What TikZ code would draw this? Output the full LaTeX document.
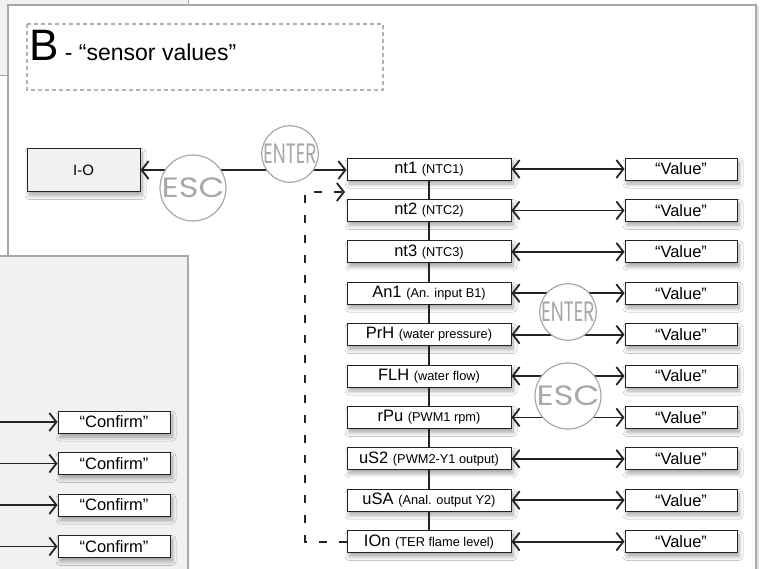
\documentclass[tikz,border=0pt]{standalone}
\usepackage{fontspec}
\setmainfont{Liberation Sans}
\newfontfamily\keyfont{Poppins}
\usetikzlibrary{arrows.meta,shadows.blur}

\definecolor{panelgray}{RGB}{240,241,243}
\definecolor{framegray}{RGB}{168,168,170}
\definecolor{keygray}{RGB}{168,168,168}
\definecolor{linedark}{RGB}{35,35,35}

\newcommand{\paren}[1]{{\fontsize{12.8}{14}\selectfont(#1)}}

\tikzset{
  softshadow/.style={blur shadow={shadow xshift=2pt,shadow yshift=-4pt,shadow blur steps=8,shadow blur radius=4pt,shadow opacity=35}},
  listbox/.style={draw=linedark,line width=1pt,fill=white,minimum width=164pt,minimum height=22pt,inner sep=0pt,font=\fontsize{16.5}{18}\selectfont,softshadow},
  valbox/.style={listbox,minimum width=112pt},
  iobox/.style={listbox,fill=panelgray,minimum width=113pt,minimum height=43pt,font=\fontsize{15}{16}\selectfont},
  keycircle/.style={circle,draw=keygray,line width=1.2pt,fill=white,minimum size=56pt,inner sep=0pt,text=keygray,font=\keyfont\fontsize{28}{28}\selectfont},
  dblarrow/.style={linedark,line width=1.8pt,{Straight Barb[length=7pt,width=18pt]}-{Straight Barb[length=7pt,width=18pt]}},
  onearrow/.style={linedark,line width=1.8pt,-{Straight Barb[length=7pt,width=18pt]}},
  looparrow/.style={onearrow,dash pattern=on 8pt off 12pt},
  linkline/.style={linedark,line width=1.3pt}
}

\begin{document}
\begin{tikzpicture}[x=1pt,y=-1pt]
\useasboundingbox (0,0) rectangle (763,568);
\clip (0,0) rectangle (763,568);

% Panels
\fill[panelgray] (0,0) rectangle (188,75);
\draw[framegray,line width=1pt] (0,75) -- (188,75) -- (188,0);
\fill[white] (8,5) rectangle (756,600);
\draw[framegray,line width=1.2pt] (8,600) -- (8,5) -- (756,5) -- (756,600);
\draw[gray!25,line width=1.5pt] (758,6) -- (758,600);
\fill[panelgray] (-5,256) rectangle (188,600);
\draw[framegray,line width=1.2pt] (-5,256) -- (188,256) -- (188,600);

% Title
\draw[gray!60,line width=1.4pt,dash pattern=on 4pt off 3pt] (27,24) rectangle (383,90);
\node[anchor=base west,inner sep=0pt] (title) at (29,60)
  {{\fontsize{44}{44}\selectfont B}{\fontsize{23}{25}\selectfont\ - “sensor values”}};

% I-O
\node[iobox] (io) at (83.5,170) {I-O};

% Sensor list
\foreach \main/\sub [count=\i] in {nt1/NTC1, nt2/NTC2, nt3/NTC3, An1/An. input B1,
    PrH/water pressure, FLH/water flow, rPu/PWM1 rpm, uS2/PWM2-Y1 output,
    uSA/Anal. output Y2, IOn/TER flame level} {
  \node[listbox] (n\i) at (429,{169+41.4*(\i-1)}) {\main\ \paren{\sub}};
  \node[valbox] (v\i) at (681,{169+41.4*(\i-1)}) {“Value”};
  \draw[dblarrow] (n\i.east) -- (v\i.west);
}
\foreach \i [evaluate=\i as \j using int(\i+1)] in {1,...,9}
  \draw[linkline] (n\i.south) -- (n\j.north);

% Loop back
\coordinate (loopcorner) at (305,192);
\coordinate (loopend) at (345,192);
\draw[looparrow] (n10.west) -| (loopcorner) -- (loopend);

% I-O link
\draw[dblarrow] (io.east) -- (io.east -| n1.west);

% Keys
\node[keycircle] (enter1) at (290,154) {\scalebox{0.66}[1]{ENTER}};
\node[keycircle] (esc1) at (193,188) {\scalebox{1.2}[1]{ESC}};
\node[keycircle] (enter2) at (568,312) {\scalebox{0.66}[1]{ENTER}};
\node[keycircle] (esc2) at (568,396) {\scalebox{1.2}[1]{ESC}};

% Confirm
\foreach \y [count=\k] in {422,463.5,505,546.5} {
  \node[valbox] (c\k) at (114,\y) {“Confirm”};
  \coordinate (cin\k) at (0,\y);
  \draw[onearrow] (cin\k) -- (c\k.west);
}

\end{tikzpicture}
\end{document}
